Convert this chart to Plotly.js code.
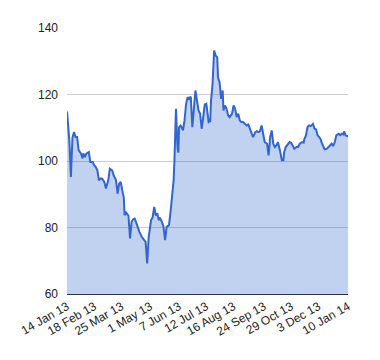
<!DOCTYPE html>
<html>
<head>
<meta charset="utf-8">
<script src="https://cdn.plot.ly/plotly-3.0.1.min.js"></script>
<style>html,body{margin:0;padding:0;background:#fff;}#chart{width:380px;height:360px;}</style>
</head>
<body>
<div id="chart"></div>
<script>
const dates = [
"2013-01-14","2013-01-16","2013-01-17","2013-01-19","2013-01-20","2013-01-21","2013-01-23","2013-01-25","2013-01-27","2013-01-29",
"2013-02-01","2013-02-03","2013-02-04","2013-02-06","2013-02-08","2013-02-11","2013-02-13","2013-02-16","2013-02-18","2013-02-20",
"2013-02-22","2013-02-24","2013-02-26","2013-02-28","2013-03-03","2013-03-05","2013-03-08","2013-03-10","2013-03-13","2013-03-15",
"2013-03-18","2013-03-20","2013-03-22","2013-03-24","2013-03-26","2013-03-28","2013-03-29","2013-03-31","2013-04-01","2013-04-03",
"2013-04-05","2013-04-07","2013-04-09","2013-04-11","2013-04-14","2013-04-15","2013-04-17","2013-04-20","2013-04-23","2013-04-25",
"2013-04-27","2013-04-29","2013-05-02","2013-05-04","2013-05-06","2013-05-08","2013-05-10","2013-05-12","2013-05-13","2013-05-16",
"2013-05-18","2013-05-20","2013-05-22","2013-05-25","2013-05-27","2013-05-29","2013-05-31","2013-06-01","2013-06-02","2013-06-03",
"2013-06-05","2013-06-06","2013-06-07","2013-06-09","2013-06-12","2013-06-14","2013-06-16","2013-06-18","2013-06-20","2013-06-22",
"2013-06-24","2013-06-26","2013-06-28","2013-06-30","2013-07-02","2013-07-04","2013-07-06","2013-07-08","2013-07-10","2013-07-12",
"2013-07-15","2013-07-17","2013-07-18","2013-07-20","2013-07-21","2013-07-22","2013-07-24","2013-07-26","2013-07-27","2013-07-29",
"2013-07-31","2013-08-02","2013-08-03","2013-08-05","2013-08-07","2013-08-09","2013-08-11","2013-08-14","2013-08-16","2013-08-18",
"2013-08-20","2013-08-22","2013-08-24","2013-08-26","2013-08-28","2013-08-31","2013-09-02","2013-09-04","2013-09-06","2013-09-08",
"2013-09-10","2013-09-13","2013-09-15","2013-09-17","2013-09-19","2013-09-21","2013-09-23","2013-09-25","2013-09-28","2013-09-30",
"2013-10-02","2013-10-04","2013-10-06","2013-10-08","2013-10-10","2013-10-12","2013-10-15","2013-10-17","2013-10-19","2013-10-20",
"2013-10-22","2013-10-25","2013-10-27","2013-10-29","2013-10-31","2013-11-02","2013-11-05","2013-11-07","2013-11-09","2013-11-12",
"2013-11-14","2013-11-15","2013-11-17","2013-11-19","2013-11-21","2013-11-23","2013-11-26","2013-11-28","2013-11-30","2013-12-02",
"2013-12-04","2013-12-06","2013-12-07","2013-12-09","2013-12-11","2013-12-14","2013-12-16","2013-12-18","2013-12-20","2013-12-22",
"2013-12-24","2013-12-26","2013-12-29","2013-12-31","2014-01-02","2014-01-04","2014-01-05","2014-01-07","2014-01-10"
];
const values = [
114.9,109.2,106.2,95.2,105.3,107.0,108.7,107.2,107.2,103.2,
102.3,100.8,102.3,101.2,102.3,102.7,99.7,99.7,98.7,98.2,
97.2,94.2,94.7,94.7,93.7,91.7,94.2,97.7,97.2,95.7,
94.2,90.2,93.2,93.7,91.2,89.0,83.7,84.5,84.2,83.5,
76.7,81.7,82.5,82.7,80.7,80.0,78.7,77.2,76.2,75.7,
69.2,77.2,82.2,83.0,86.2,83.7,84.2,82.2,83.0,81.7,
80.2,76.2,80.2,80.7,84.7,89.2,94.2,100.0,106.2,115.7,
104.0,102.5,110.2,110.7,109.2,112.2,117.2,119.2,118.7,119.4,
110.2,116.7,121.2,118.2,115.2,114.2,109.7,113.2,117.0,117.2,
111.7,112.0,118.0,123.2,132.2,133.2,131.7,131.2,125.2,123.7,
118.7,121.2,115.2,116.7,115.7,113.7,113.2,114.2,116.7,115.7,
113.2,114.2,112.2,111.7,111.7,111.2,110.7,111.0,109.7,108.2,
107.2,108.7,109.0,108.7,109.0,110.7,108.2,105.7,105.2,101.7,
107.2,109.2,105.2,104.2,104.7,105.7,102.7,100.2,100.2,102.7,
104.2,105.2,105.7,105.5,104.7,103.7,104.2,104.2,105.2,105.7,
105.5,106.7,107.7,110.2,110.7,110.5,111.2,109.7,109.5,107.7,
107.2,106.5,105.7,104.7,103.5,103.7,104.2,104.5,105.2,104.5,
105.7,107.7,108.2,107.8,108.2,108.0,108.9,107.7,107.4
];
const tickDates = ["2013-01-14","2013-02-18","2013-03-25","2013-05-01","2013-06-07","2013-07-12","2013-08-16","2013-09-24","2013-10-29","2013-12-03","2014-01-10"];
const tickLabels = ["14 Jan 13","18 Feb 13","25 Mar 13","1 May 13","7 Jun 13","12 Jul 13","16 Aug 13","24 Sep 13","29 Oct 13","3 Dec 13","10 Jan 14"];
const yTicks = [60, 80, 100, 120, 140];

const trace = {
  x: dates, y: values, type: 'scatter', mode: 'lines',
  line: {color: '#3366cc', width: 2},
  fill: 'tozeroy', fillcolor: 'rgba(51,102,204,0.3)',
  hoverinfo: 'skip'
};
const layout = {
  width: 380, height: 360,
  margin: {l: 67, r: 32, t: 28, b: 66},
  paper_bgcolor: '#fff', plot_bgcolor: '#fff',
  showlegend: false,
  font: {family: 'Arial, "Liberation Sans", sans-serif', size: 12, color: '#222'},
  xaxis: {
    type: 'date', range: ['2013-01-14', '2014-01-10'],
    tickvals: tickDates, ticktext: tickLabels, tickangle: -30,
    showgrid: false, zeroline: false, showline: true, linecolor: '#333', linewidth: 1,
    ticks: '', tickfont: {size: 12, color: '#222'}
  },
  yaxis: {
    range: [60, 140], tickvals: yTicks, showgrid: true, gridcolor: '#cccccc', gridwidth: 1,
    zeroline: false, showline: false, ticks: '', ticklabelstandoff: 8,
    tickfont: {size: 12, color: '#222'}
  }
};
Plotly.newPlot('chart', [trace], layout, {displayModeBar: false, staticPlot: true});
</script>
</body>
</html>
